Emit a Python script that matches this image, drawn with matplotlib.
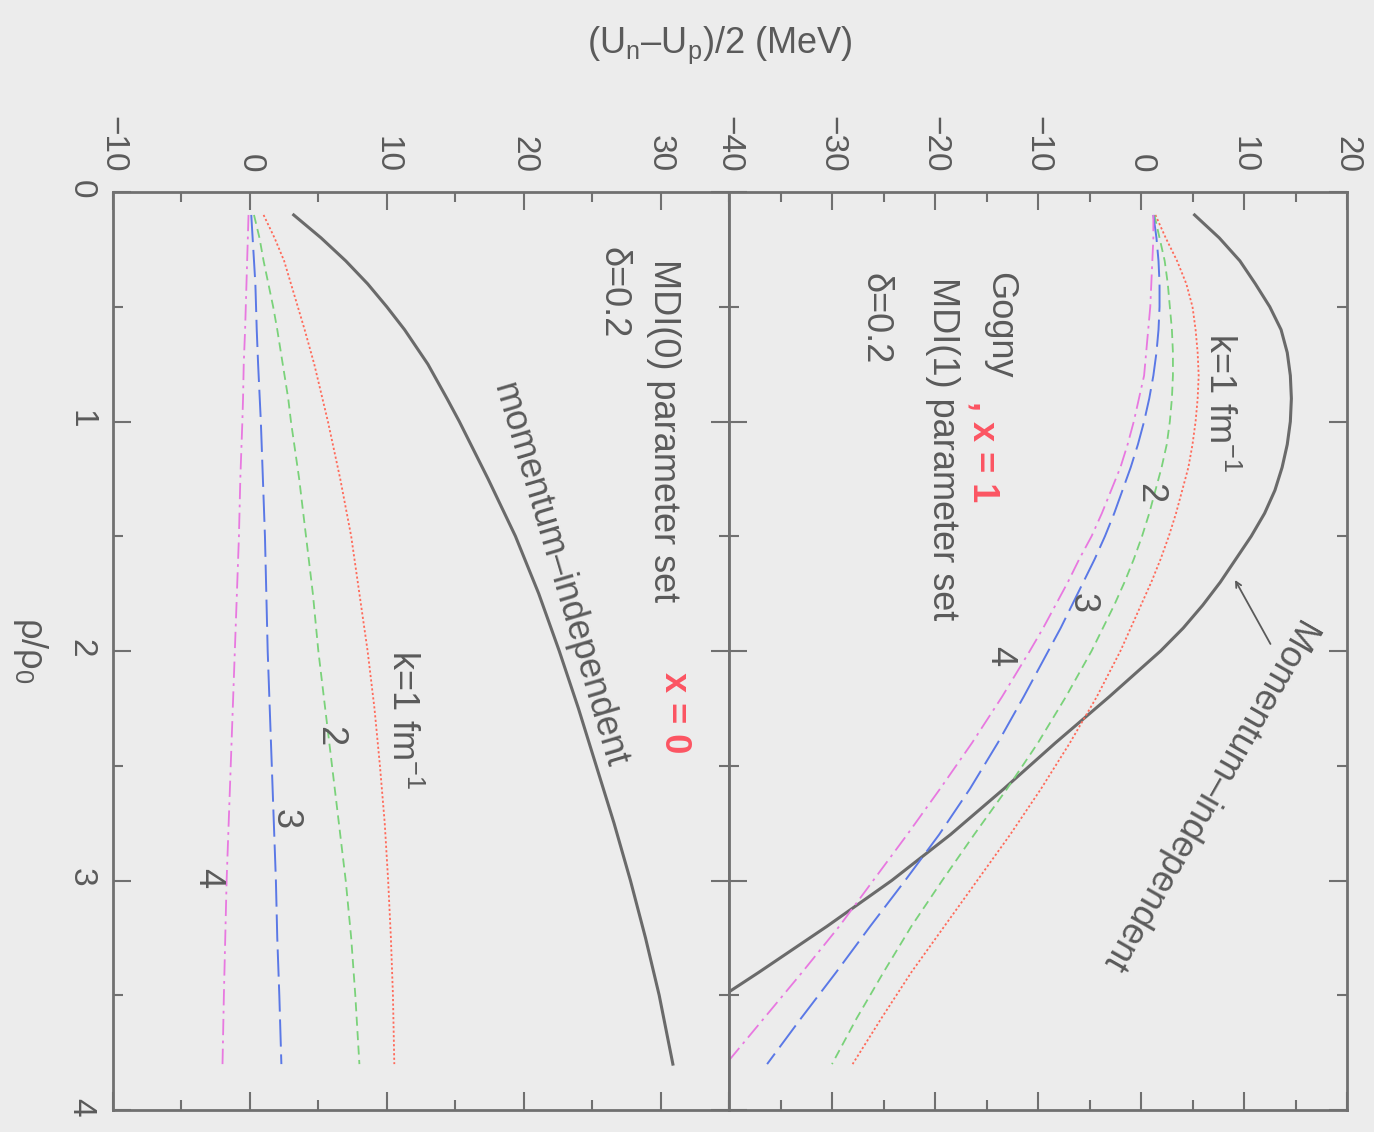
import matplotlib
matplotlib.use("Agg")
import matplotlib.pyplot as plt
from matplotlib.ticker import MultipleLocator, FuncFormatter

plt.rcParams['font.family'] = ['Liberation Sans', 'DejaVu Sans']
plt.rcParams['mathtext.fontset'] = 'custom'
plt.rcParams['mathtext.rm'] = 'Liberation Sans'
plt.rcParams['mathtext.it'] = 'Liberation Sans:italic'

# ---------------- data ----------------
# MDI(0) parameter set (x = 0), lower panel
rho0 = [0.1, 0.2, 0.3, 0.4, 0.5, 0.6, 0.75, 0.9, 1.0, 1.25, 1.5, 1.75, 2.0, 2.25, 2.5, 2.75,
        3.0, 3.25, 3.5, 3.8]
mdi0_indep = [3.2, 5.2, 7.0, 8.6, 10.0, 11.3, 13.0, 14.4, 15.3, 17.4, 19.4, 21.1, 22.6, 24.0,
              25.3, 26.6, 27.8, 28.9, 29.9, 30.9]
mdi0_k1 = [1.0, 1.8, 2.5, 3.0, 3.5, 4.0, 4.7, 5.3, 5.7, 6.6, 7.4, 8.0, 8.6, 9.1, 9.5, 9.85,
           10.1, 10.3, 10.45, 10.55]
mdi0_k2 = [0.3, 0.7, 1.0, 1.35, 1.7, 2.0, 2.4, 2.8, 3.0, 3.6, 4.1, 4.6, 5.0, 5.5, 6.0, 6.5,
           7.0, 7.4, 7.7, 8.0]
mdi0_k3 = [0.1, 0.2, 0.3, 0.4, 0.45, 0.5, 0.6, 0.72, 0.8, 0.95, 1.1, 1.2, 1.3, 1.45, 1.6, 1.75,
           1.9, 2.0, 2.15, 2.3]
mdi0_k4 = [-0.1, -0.15, -0.2, -0.25, -0.3, -0.35, -0.45, -0.5, -0.55, -0.7, -0.8, -0.95, -1.1,
           -1.25, -1.4, -1.55, -1.7, -1.8, -1.9, -2.0]

# MDI(1) parameter set (Gogny, x = 1), upper panel
rho1 = [0.1, 0.2, 0.3, 0.4, 0.5, 0.6, 0.7, 0.8, 0.9, 1.0, 1.1, 1.2, 1.3, 1.4, 1.5, 1.6, 1.7,
        1.8, 1.9, 2.0, 2.2, 2.4, 2.6, 2.8, 3.0, 3.2, 3.4, 3.6, 3.8]
rho1_indep = [0.1, 0.2, 0.3, 0.4, 0.5, 0.6, 0.7, 0.8, 0.9, 1.0, 1.1, 1.2, 1.3, 1.4, 1.5, 1.6,
              1.7, 1.8, 1.9, 2.0, 2.2, 2.4, 2.6, 2.8, 3.0, 3.2, 3.4, 3.5]
mdi1_indep = [5.2, 7.6, 9.6, 11.1, 12.5, 13.6, 14.2, 14.5, 14.6, 14.5, 14.2, 13.7, 13.0, 12.0,
              10.7, 9.2, 7.7, 6.0, 4.1, 1.9, -3.1, -8.3, -13.3, -18.5, -24.2, -30.5, -37.1, -40.5]
mdi1_k1 = [1.4, 2.4, 3.5, 4.4, 5.0, 5.3, 5.5, 5.6, 5.5, 5.3, 5.0, 4.6, 4.0, 3.4, 2.7, 1.9, 1.0,
           0.0, -1.0, -2.0, -4.3, -6.9, -9.7, -12.7, -15.9, -19.1, -22.3, -25.2, -28.0]
mdi1_k2 = [1.3, 1.8, 2.3, 2.6, 2.8, 3.0, 3.1, 3.1, 3.0, 2.8, 2.5, 2.0, 1.4, 0.8, 0.1, -0.7, -1.6,
           -2.6, -3.7, -4.8, -7.3, -10.0, -13.0, -16.2, -19.3, -22.3, -25.0, -27.6, -30.0]
mdi1_k3 = [1.2, 1.5, 1.7, 1.8, 1.8, 1.7, 1.5, 1.2, 0.8, 0.3, -0.3, -1.0, -1.8, -2.6, -3.5, -4.5,
           -5.6, -6.7, -7.8, -9.0, -11.4, -13.9, -16.6, -19.6, -22.9, -26.3, -29.6, -33.0, -36.3]
mdi1_k4 = [1.2, 1.2, 1.1, 1.0, 0.9, 0.7, 0.5, 0.3, -0.2, -0.7, -1.3, -2.0, -2.9, -3.8, -4.8,
           -6.0, -7.1, -8.3, -9.5, -10.8, -13.5, -16.4, -19.5, -22.7, -26.0, -29.3, -32.9,
           -36.6, -40.3]

val_ticks = [-40, -30, -20, -10, 0, 10, 20, 30]
rho_ticks = [0, 1, 2, 3, 4]

# ---------------- style ----------------
BG = '#ececec'
TXT = '#5a5a5a'
SP = '#707070'
C_IND = '#6a6a6a'
C_K1 = '#ff6a5a'
C_K2 = '#7ad27a'
C_K3 = '#5a78e6'
C_K4 = '#e878e0'
LS = {
    'k1': (0, (1.2, 1.3)),
    'k2': (0, (5, 3)),
    'k3': (0, (14, 4)),
    'k4': (0, (9, 3, 1.5, 3)),
}

fig = plt.figure(figsize=(13.74, 11.32), dpi=100, facecolor=BG)
W, H = 1374.0, 1132.0
top_px, bot_px = 192.0, 1110.0
axL = fig.add_axes([113 / W, 1 - bot_px / H, (729 - 113) / W, (bot_px - top_px) / H])
axR = fig.add_axes([729 / W, 1 - bot_px / H, (1347 - 729) / W, (bot_px - top_px) / H])


def style(ax, xlim, left_labels):
    ax.set_facecolor(BG)
    ax.set_xlim(*xlim)
    ax.set_ylim(4, 0)
    ax.xaxis.set_minor_locator(MultipleLocator(5))
    ax.yaxis.set_minor_locator(MultipleLocator(0.5))
    ax.set_xticks([t for t in val_ticks if xlim[0] <= t <= xlim[1]])
    ax.set_yticks(rho_ticks)
    for s in ax.spines.values():
        s.set_color(SP)
        s.set_linewidth(2.0)
    ax.tick_params(which='both', direction='in', top=True, bottom=True,
                   left=True, right=True, color=SP, width=1.5)
    ax.tick_params(which='major', length=13)
    ax.tick_params(which='minor', length=7)
    ax.tick_params(axis='x', labeltop=True, labelbottom=False, labelrotation=-90,
                   labelsize=24, labelcolor=TXT, pad=14)
    ax.tick_params(axis='y', labelleft=left_labels, labelright=False, labelrotation=-90,
                   labelsize=24, labelcolor=TXT, pad=12)
    ax.xaxis.set_major_formatter(FuncFormatter(
        lambda v, p: ('\u2212%d' % abs(v)) if v < 0 else '%d' % v))


style(axL, (-10, 35), True)
style(axR, (-40, 20), False)

# lower (left) panel curves
axL.plot(mdi0_indep, rho0, color=C_IND, lw=2.2)
axL.plot(mdi0_k1, rho0, color=C_K1, lw=1.3, ls=LS['k1'])
axL.plot(mdi0_k2, rho0, color=C_K2, lw=1.3, ls=LS['k2'])
axL.plot(mdi0_k3, rho0, color=C_K3, lw=1.4, ls=LS['k3'])
axL.plot(mdi0_k4, rho0, color=C_K4, lw=1.3, ls=LS['k4'])

# upper (right) panel curves
axR.plot(mdi1_indep, rho1_indep, color=C_IND, lw=2.2)
axR.plot(mdi1_k1, rho1, color=C_K1, lw=1.3, ls=LS['k1'])
axR.plot(mdi1_k2, rho1, color=C_K2, lw=1.3, ls=LS['k2'])
axR.plot(mdi1_k3, rho1, color=C_K3, lw=1.4, ls=LS['k3'])
axR.plot(mdi1_k4, rho1, color=C_K4, lw=1.3, ls=LS['k4'])

FS = 26
kw = dict(rotation=-90, ha='center', va='center', color=TXT, fontsize=FS,
          rotation_mode='anchor')
kw_red = dict(rotation=-90, ha='center', va='center', color='#ff3a4a', fontsize=FS,
              fontweight='bold', alpha=0.85, rotation_mode='anchor')

# left panel annotations
axL.text(30.2, 1.04, 'MDI(0) parameter set', **kw)
axL.text(31.0, 2.27, 'x = 0', **kw_red)
axL.text(26.5, 0.44, '\u03b4=0.2', **kw)
axL.text(22.6, 1.67, 'momentum\u2013independent', rotation=-73.5, ha='center', va='center',
         color=TXT, fontsize=FS, rotation_mode='anchor')
axL.text(11.1, 2.30, 'k=1 fm$^{-1}$', **kw)
axL.text(5.8, 2.37, '2', **kw)
axL.text(2.6, 2.73, '3', **kw)
axL.text(-3.1, 2.99, '4', **kw)

# right panel annotations
axR.text(7.6, 0.92, 'k=1 fm$^{-1}$', **kw)
axR.text(0.8, 1.31, '2', **kw)
axR.text(-5.7, 1.79, '3', **kw)
axR.text(-13.7, 2.02, '4', **kw)
axR.text(-13.7, 0.58, 'Gogny', **kw)
axR.text(-15.3, 1.13, ', x = 1', **kw_red)
axR.text(-19.3, 1.12, 'MDI(1) parameter set', **kw)
axR.text(-25.8, 0.55, '\u03b4=0.2', **kw)
axR.text(6.3, 2.63, 'Momentum\u2013independent', rotation=-119.7, ha='center', va='center',
         color=TXT, fontsize=FS, rotation_mode='anchor')
axR.annotate('', xy=(9.0, 1.68), xytext=(12.7, 1.98),
             arrowprops=dict(arrowstyle='->', color=TXT, lw=1.3))

# axis labels
fig.text(720 / W, 1 - 45 / H, '(U$_{\\rm n}$\u2013U$_{\\rm p}$)/2 (MeV)', ha='center', va='center',
         color=TXT, fontsize=FS)
fig.text(30 / W, 1 - 650 / H, '\u03c1/\u03c1$_0$', rotation=-90, ha='center', va='center',
         color=TXT, fontsize=FS)

fig.savefig('out.png', dpi=100, facecolor=BG)
